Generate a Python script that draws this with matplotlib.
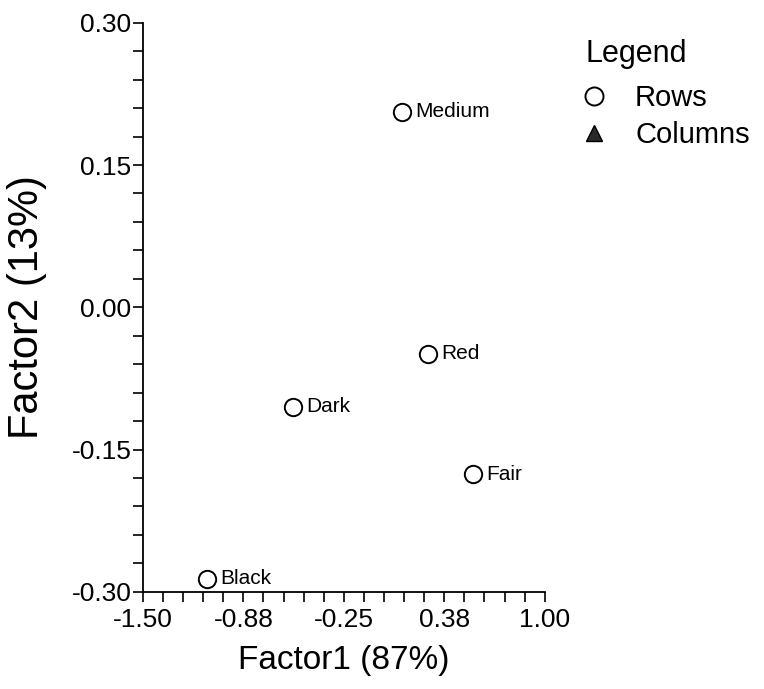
import matplotlib
matplotlib.use("Agg")
import matplotlib.pyplot as plt
from matplotlib.lines import Line2D
from matplotlib.ticker import FixedLocator, AutoMinorLocator

plt.rcParams['font.family'] = ['Liberation Sans', 'DejaVu Sans']

# Row coordinates
row_names = ['Medium', 'Red', 'Dark', 'Fair', 'Black']
factor1 = [0.111, 0.272, -0.567, 0.552, -1.102]
factor2 = [0.206, -0.049, -0.105, -0.176, -0.286]

xticks = [-1.50, -0.875, -0.25, 0.375, 1.00]
xtick_labels = ['-1.50', '-0.88', '-0.25', '0.38', '1.00']
yticks = [-0.30, -0.15, 0.00, 0.15, 0.30]
ytick_labels = ['-0.30', '-0.15', '0.00', '0.15', '0.30']

fig = plt.figure(figsize=(7.64, 6.89), dpi=100)
ax = fig.add_axes([0.187, 0.141, 0.526, 0.826])

ax.plot(factor1, factor2, linestyle='none', marker='o', markersize=12.5,
        markerfacecolor='white', markeredgecolor='black', markeredgewidth=1.4,
        clip_on=False, zorder=3)
for name, x, y in zip(row_names, factor1, factor2):
    ax.annotate(name, (x, y), xytext=(10, 0), textcoords='offset points',
                va='center', ha='left', fontsize=15)

ax.set_xlim(-1.5, 1.0)
ax.set_ylim(-0.30, 0.30)
ax.xaxis.set_major_locator(FixedLocator(xticks))
ax.set_xticklabels(xtick_labels)
ax.yaxis.set_major_locator(FixedLocator(yticks))
ax.set_yticklabels(ytick_labels)
ax.xaxis.set_minor_locator(AutoMinorLocator(5))
ax.yaxis.set_minor_locator(AutoMinorLocator(5))
ax.tick_params(which='both', direction='out', length=7.2, width=1.2, labelsize=19)
ax.tick_params(axis='x', which='both', pad=4.5)
ax.tick_params(axis='y', which='both', pad=1)

for side in ['top', 'right']:
    ax.spines[side].set_visible(False)
for side in ['left', 'bottom']:
    ax.spines[side].set_linewidth(1.3)

ax.set_xlabel('Factor1 (87%)', fontsize=24)
ax.set_ylabel('Factor2 (13%)', fontsize=30)
ax.xaxis.set_label_coords(0.5, -0.094)
ax.yaxis.set_label_coords(-0.239, 0.5)

# legend: title as separate text, entries below it
fig.text(0.766, 0.910, 'Legend', fontsize=22, ha='left', va='baseline')
handles = [
    Line2D([], [], linestyle='none', marker='o', markersize=13,
           markerfacecolor='white', markeredgecolor='black', markeredgewidth=1.4),
    Line2D([], [], linestyle='none', marker='^', markersize=11,
           markerfacecolor='#2a2a2a', markeredgecolor='black', markeredgewidth=1.0),
]
leg = fig.legend(handles, ['Rows', 'Columns'], frameon=False,
                 loc='upper left', bbox_to_anchor=(0.764, 0.878), fontsize=21,
                 handlelength=0.7, handletextpad=1.06,
                 labelspacing=0.32, borderpad=0, borderaxespad=0)

fig.savefig('out.png', dpi=100)
